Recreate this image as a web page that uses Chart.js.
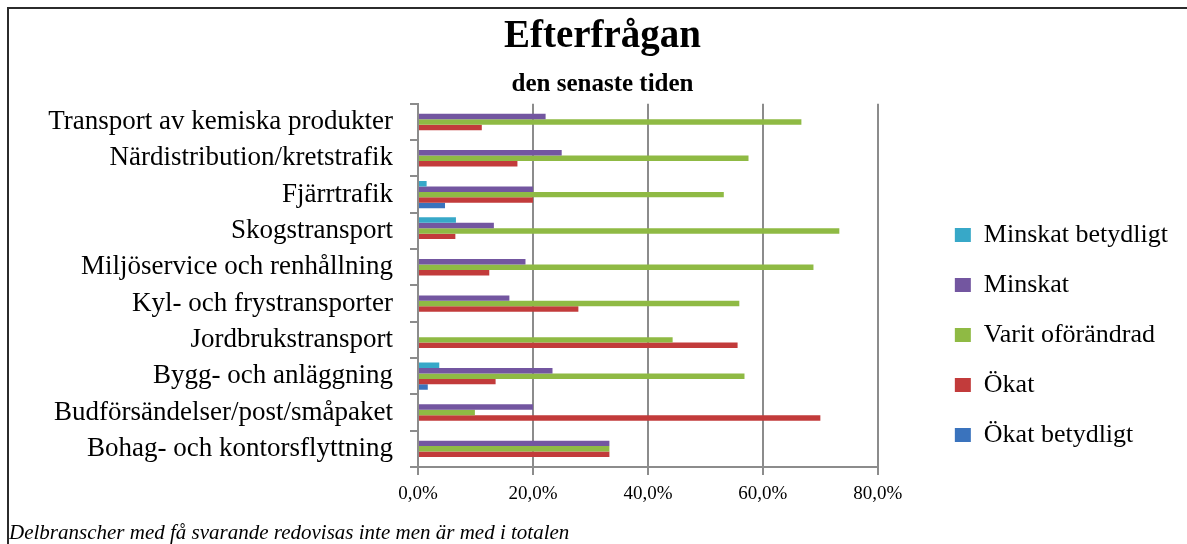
<!DOCTYPE html>
<html lang="sv">
<head>
<meta charset="utf-8">
<title>Efterfrågan</title>
<script src="https://cdn.jsdelivr.net/npm/chart.js@4.4.1/dist/chart.umd.min.js"></script>
<style>
  html, body { margin: 0; padding: 0; background: #fff; }
  #wrap { position: relative; width: 1187px; height: 544px; overflow: hidden; }
  #frame { position: absolute; left: 7px; top: 7px; width: 1200px; height: 560px; border: 2px solid #2b2b2b; box-sizing: border-box; }
  #demandChart { position: absolute; left: 0; top: 0; }
  #note { position: absolute; left: 9px; top: 521px; font: italic 21px 'Liberation Serif', serif; line-height: 22px; color: #000; white-space: nowrap; }
</style>
</head>
<body>
<div id="wrap">
  <div id="frame"></div>
  <canvas id="demandChart" width="1187" height="544"></canvas>
  <div id="note">Delbranscher med få svarande redovisas inte men är med i totalen</div>
</div>
<script>
// kategorier uppifrån och ned
const categories = [
    'Transport av kemiska produkter',
    'Närdistribution/kretstrafik',
    'Fjärrtrafik',
    'Skogstransport',
    'Miljöservice och renhållning',
    'Kyl- och frystransporter',
    'Jordbrukstransport',
    'Bygg- och anläggning',
    'Budförsändelser/post/småpaket',
    'Bohag- och kontorsflyttning'
];

// andel svar i procent, samma ordning som categories
const minskatBetydligt = [0, 0, 1.5, 6.6, 0, 0, 0, 3.7, 0, 0];
const minskat          = [22.2, 25.0, 20.0, 13.2, 18.7, 15.9, 0, 23.4, 20.0, 33.3];
const oforandrad       = [66.7, 57.5, 53.2, 73.3, 68.8, 55.9, 44.3, 56.8, 9.9, 33.3];
const okat             = [11.1, 17.3, 20.0, 6.5, 12.4, 27.9, 55.6, 13.5, 70.0, 33.3];
const okatBetydligt    = [0, 0, 4.7, 0, 0, 0, 0, 1.7, 0, 0];

const seriesNames = ['Minskat betydligt', 'Minskat', 'Varit oförändrad', 'Ökat', 'Ökat betydligt'];
const seriesColors = ['#37a8c8', '#7356a0', '#8fba44', '#c23b3b', '#3a73bd'];
const seriesData = [minskatBetydligt, minskat, oforandrad, okat, okatBetydligt];

const xTicks = [0, 20, 40, 60, 80];

const serif = "'Liberation Serif', 'Times New Roman', serif";
const gridGray = '#8c8c8c';

const datasets = seriesNames.map(function (name, i) {
    return {
        label: name,
        data: seriesData[i],
        backgroundColor: seriesColors[i],
        borderWidth: 0,
        categoryPercentage: 0.75,
        barPercentage: 1.0
    };
});

const ctx = document.getElementById('demandChart').getContext('2d');
new Chart(ctx, {
    type: 'bar',
    data: {
        labels: categories,
        datasets: datasets
    },
    options: {
        indexAxis: 'y',
        responsive: false,
        animation: false,
        layout: {
            padding: { top: 0, left: 27, right: 9, bottom: 0 }
        },
        scales: {
            x: {
                min: xTicks[0],
                max: xTicks[xTicks.length - 1],
                afterFit: function (s) { s.height = 77; },
                afterBuildTicks: function (s) { s.ticks = xTicks.map(v => ({ value: v })); },
                grid: { color: gridGray, lineWidth: 2, tickLength: 8 },
                border: { color: gridGray, width: 2 },
                ticks: {
                    padding: 8,
                    color: '#000',
                    font: { family: serif, size: 19 },
                    callback: v => Number(v).toFixed(1).replace('.', ',') + '%'
                }
            },
            y: {
                afterFit: function (s) { s.width = 391; },
                grid: { display: true, drawOnChartArea: false, drawTicks: true, tickLength: 8, color: gridGray, lineWidth: 2, offset: true },
                border: { display: true, color: gridGray, width: 2 },
                ticks: { autoSkip: false, padding: 17, color: '#000', font: { family: serif, size: 27 } }
            },
            // tom axel som ger luft mellan diagram och förklaring
            gap: {
                type: 'category',
                position: 'right',
                display: true,
                labels: [''],
                grid: { display: false },
                border: { display: false },
                ticks: { display: false },
                afterFit: function (s) { s.width = 53; }
            }
        },
        plugins: {
            title: {
                display: true,
                text: 'Efterfrågan',
                color: '#000',
                font: { family: serif, size: 39, weight: 'bold' },
                padding: { top: 14, bottom: 0 }
            },
            subtitle: {
                display: true,
                text: 'den senaste tiden',
                color: '#000',
                font: { family: serif, size: 25, weight: 'bold' },
                padding: { top: 9, bottom: 4 }
            },
            legend: {
                position: 'right',
                align: 'start',
                maxWidth: 320,
                title: { display: true, text: '', font: { size: 1 }, padding: { top: 196.8, bottom: 0 } },
                labels: {
                    boxWidth: 16,
                    boxHeight: 14,
                    padding: 24,
                    color: '#000',
                    font: { family: serif, size: 26 }
                }
            },
            tooltip: { enabled: false }
        }
    }
});
</script>
</body>
</html>
